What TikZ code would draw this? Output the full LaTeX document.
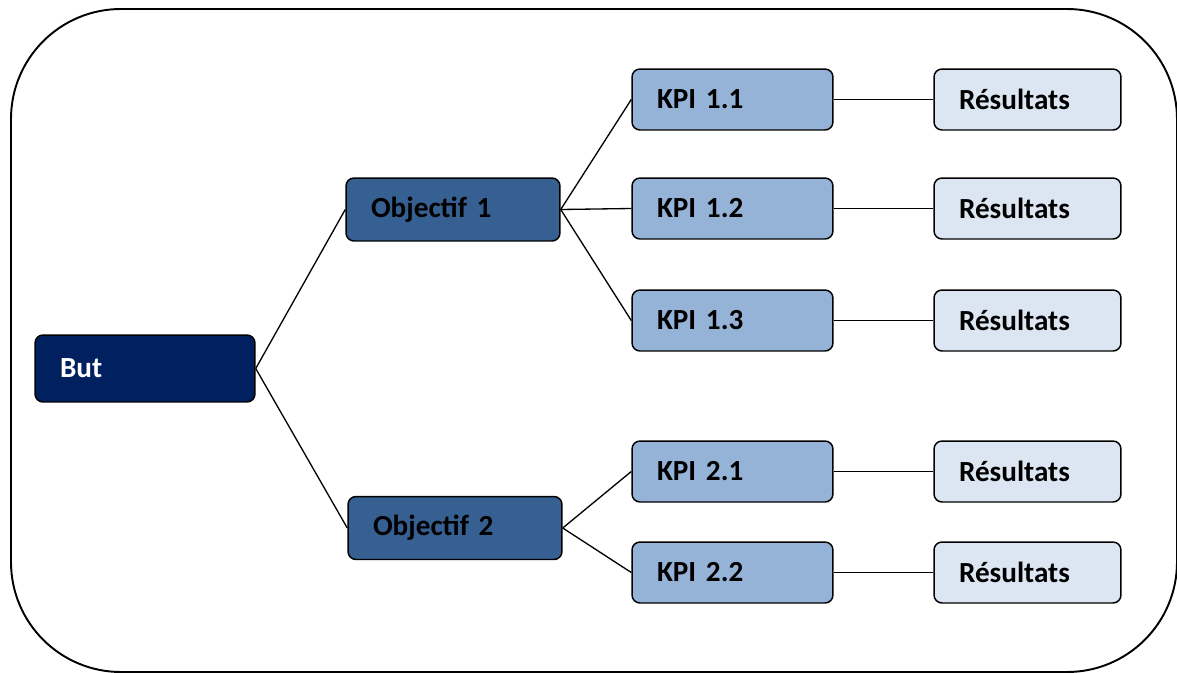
\documentclass[tikz,border=0pt]{standalone}
\usepackage{fontspec}
\setmainfont{Carlito}
\definecolor{butnavy}{HTML}{002060}
\definecolor{objblue}{HTML}{376092}
\definecolor{kpiblue}{HTML}{95B3D7}
\definecolor{resblue}{HTML}{DCE6F2}
\begin{document}
\begin{tikzpicture}[x=0.02cm, y=-0.02cm,
        box/.style={draw=black, line width=0.85pt, rounded corners=0.16cm, inner xsep=0.5cm, inner ysep=0pt, align=left, font=\fontsize{16.6}{19}\selectfont\bfseries},
        butbox/.style={box, fill=butnavy, text=white, minimum width=4.4cm, text width=3.4cm, minimum height=1.34cm},
        objbox/.style={box, fill=objblue, minimum width=4.28cm, text width=3.28cm, minimum height=1.26cm},
        kpibox/.style={box, fill=kpiblue, minimum width=4.02cm, text width=3.02cm, minimum height=1.22cm},
        resbox/.style={box, fill=resblue, minimum width=3.74cm, text width=2.74cm, minimum height=1.22cm},
        link/.style={line width=0.75pt}]
        \useasboundingbox (0,0) rectangle (1177,673);
        \draw[line width=1.1pt, rounded corners=2.2cm] (11,9) rectangle (1177,672);

        \node[butbox] (but) at (145,368.5) {But};
        \node[objbox] (obj1) at (453,209.5) {Objectif 1};
        \node[objbox] (obj2) at (455,528) {Objectif 2};

        \foreach \n/\y in {11/99.5, 12/208.5, 13/320.5, 21/471.5, 22/572.5} {
            \node[kpibox] (kpi\n) at (732.5,\y) {KPI \ifnum\n<20 1\else 2\fi.\the\numexpr\n-10*(\n/10)\relax};
            \node[resbox] (res\n) at (1027.5,\y) {Résultats};
            \draw[link] (kpi\n.east) -- (res\n.west);
        }

        \draw[link] (but.east) -- (obj1.west);
        \draw[link] (but.east) -- (obj2.west);
        \foreach \n in {11,12,13} \draw[link] (obj1.east) -- (kpi\n.west);
        \foreach \n in {21,22} \draw[link] (obj2.east) -- (kpi\n.west);
\end{tikzpicture}
\end{document}
